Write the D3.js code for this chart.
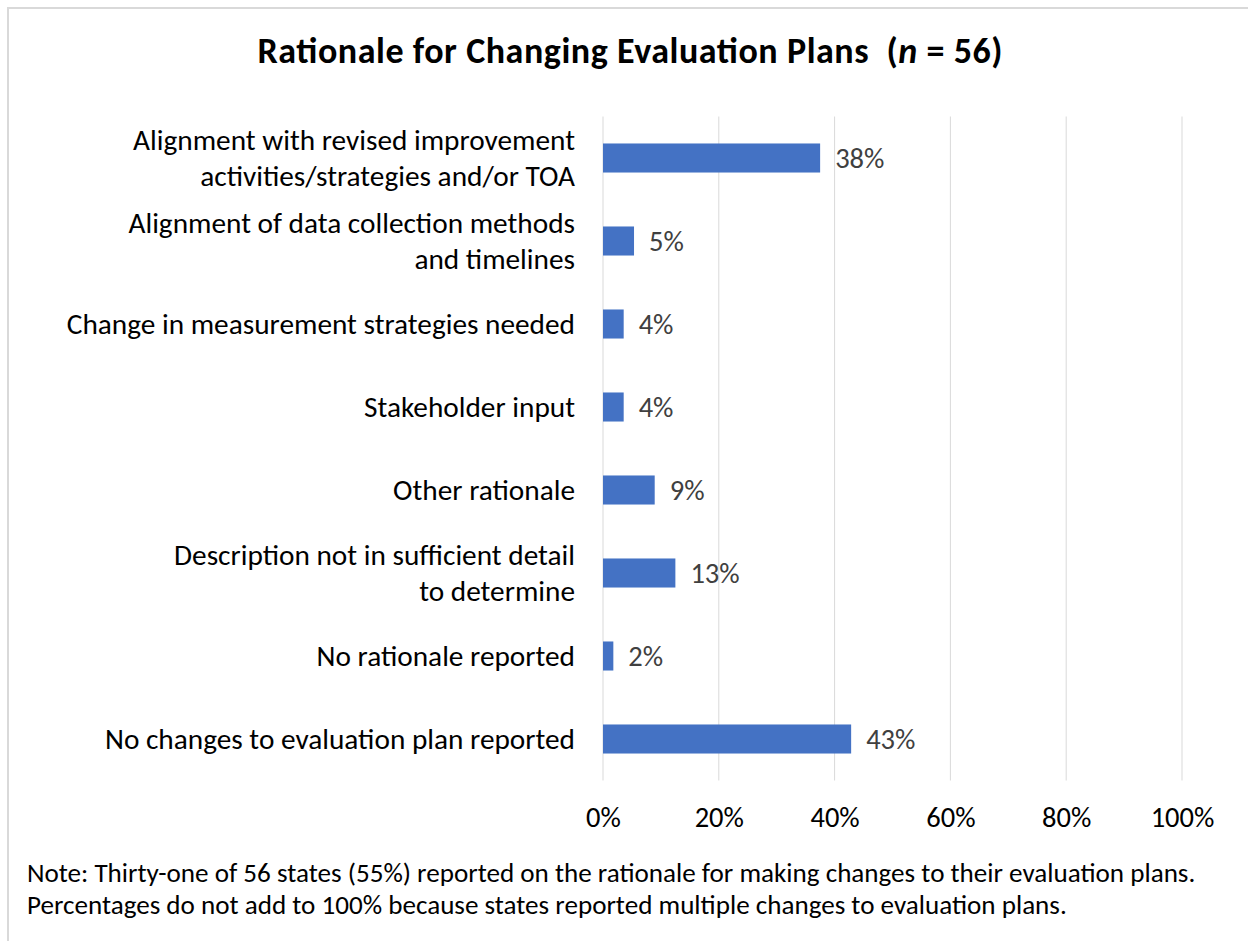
<!DOCTYPE html>
<html>
<head>
<meta charset="utf-8">
<script src="https://cdn.jsdelivr.net/npm/d3@7"></script>
<style>
  html, body { margin: 0; padding: 0; background: #fff; }
  svg { display: block; }
  text { font-family: Carlito, Lato, "Open Sans", sans-serif; }
</style>
</head>
<body>
<svg id="chart" width="1248" height="945"></svg>
<script>
const categories = [
  ["Alignment with revised improvement", "activities/strategies and/or TOA"],
  ["Alignment of data collection methods", "and timelines"],
  ["Change in measurement strategies needed"],
  ["Stakeholder input"],
  ["Other rationale"],
  ["Description not in sufficient detail", "to determine"],
  ["No rationale reported"],
  ["No changes to evaluation plan reported"]
];
const counts = [21, 3, 2, 2, 5, 7, 1, 24];
const total = 56;
const values = counts.map(c => c / total);
const tickValues = [0, 0.2, 0.4, 0.6, 0.8, 1.0];
const titleText = "Rationale for Changing Evaluation Plans";
const noteLines = [
  "Note: Thirty-one of 56 states (55%) reported on the rationale for making changes to their evaluation plans.",
  "Percentages do not add to 100% because states reported multiple changes to evaluation plans."
];

const svg = d3.select("#chart");
const W = 1248, H = 945;
const FS = 29.3;

// outer border (top and left visible)
svg.append("path")
  .attr("d", `M8,941 L8,8 L${W},8`)
  .attr("fill", "none").attr("stroke", "#d9d9d9").attr("stroke-width", 2);

const plot = { left: 603, right: 1182, top: 116.5, bottom: 780.5 };
const x = d3.scaleLinear().domain([0, 1]).range([plot.left, plot.right]);
const y = d3.scaleBand().domain(d3.range(categories.length))
  .range([plot.top, plot.bottom]).paddingInner(0.65).paddingOuter(0.325);

// title
const title = svg.append("text")
  .attr("x", 630).attr("y", 63).attr("text-anchor", "middle")
  .attr("font-size", 36).attr("font-weight", "bold").attr("fill", "#000")
  .attr("textLength", 745).attr("lengthAdjust", "spacing");
title.append("tspan").text(titleText + "\u00a0\u00a0(");
title.append("tspan").attr("font-style", "italic").text("n");
title.append("tspan").text(" = " + total + ")");

// gridlines
svg.append("g").selectAll("line").data(tickValues).join("line")
  .attr("x1", d => x(d)).attr("x2", d => x(d))
  .attr("y1", plot.top).attr("y2", plot.bottom)
  .attr("stroke", "#d9d9d9").attr("stroke-width", 1);

// x axis labels
const xAxis = d3.axisBottom(x).tickValues(tickValues).tickFormat(d3.format(".0%")).tickSize(0).tickPadding(0);
const gx = svg.append("g").attr("transform", `translate(0,${plot.bottom})`).call(xAxis);
gx.select(".domain").remove();
gx.selectAll("text").attr("font-size", 28.5).attr("fill", "#000")
  .attr("font-family", "Carlito, Lato, 'Open Sans', sans-serif")
  .attr("dy", null).attr("y", 46.5);

// bars
svg.append("g").selectAll("rect").data(values).join("rect")
  .attr("x", x(0)).attr("y", (d, i) => y(i))
  .attr("width", d => x(d) - x(0)).attr("height", y.bandwidth())
  .attr("fill", "#4472c4");

// value labels
svg.append("g").selectAll("text").data(values).join("text")
  .attr("x", d => x(d) + 15).attr("y", (d, i) => y(i) + y.bandwidth() / 2)
  .attr("dy", "0.35em").attr("font-size", 28.5).attr("fill", "#404040")
  .text(d => d3.format(".0%")(d));

// category labels
const cl = svg.append("g").selectAll("text").data(categories).join("text")
  .attr("text-anchor", "end").attr("font-size", FS).attr("fill", "#000")
  .attr("y", (d, i) => y(i) + y.bandwidth() / 2);
cl.each(function(lines) {
  const t = d3.select(this);
  const n = lines.length;
  lines.forEach((ln, k) => {
    t.append("tspan").attr("x", 575)
      .attr("dy", k === 0 ? `${0.35 * FS - (n - 1) * 18}px` : "36px")
      .text(ln);
  });
});

// note
svg.append("g").selectAll("text").data(noteLines).join("text")
  .attr("x", 27).attr("y", (d, i) => 882 + i * 32)
  .attr("font-size", 27.1).attr("fill", "#000")
  .text(d => d);
</script>
</body>
</html>
